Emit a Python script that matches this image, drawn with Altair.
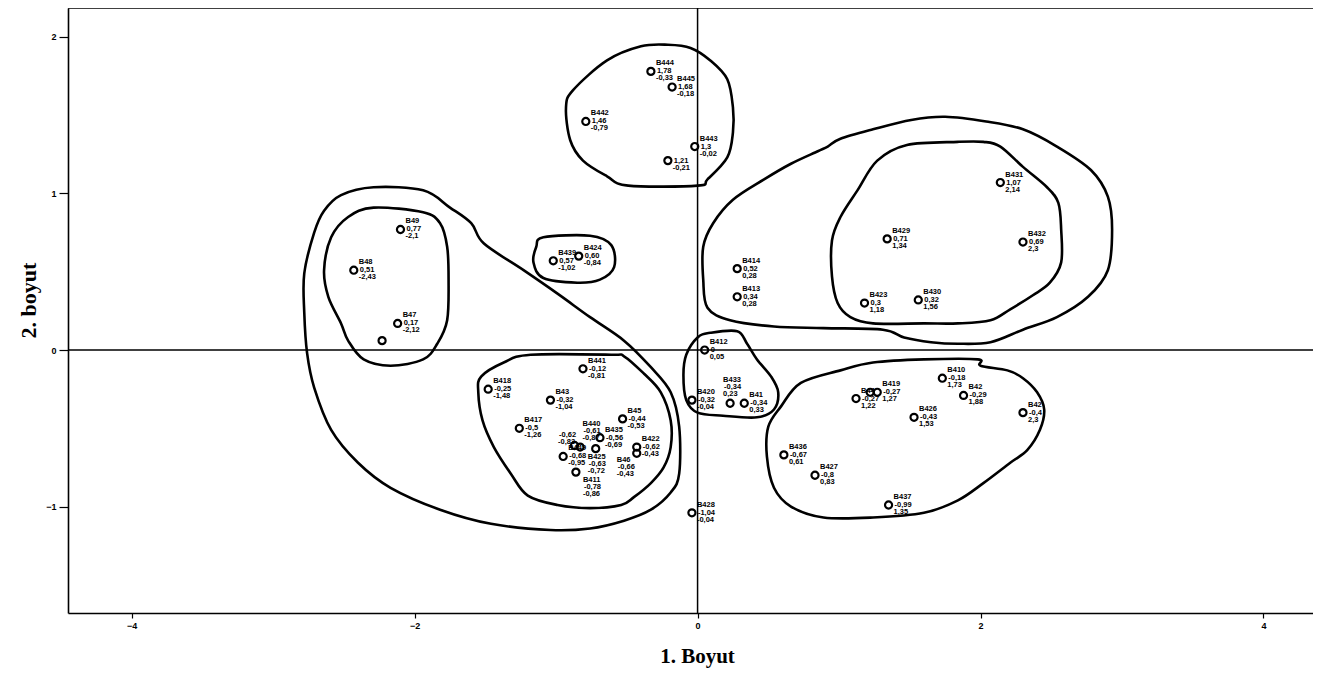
import altair as alt
import pandas as pd

# ---- points (1. Boyut = dim1, 2. boyut = dim2) ----
names = ["B444", "B445", "B442", "B443", "", "B49", "B48", "B47", "", "B439", "B424",
         "B441", "B418", "B43", "B417", "B45", "B440", "", "B435", "B449", "B425", "B411",
         "B46", "B422", "B420", "B433", "B41", "B412", "B414", "B413", "B428",
         "B431", "B429", "B432", "B423", "B430", "B410", "B419", "", "B44", "B42",
         "B426", "B42", "B436", "B427", "B437"]
dim1 = [-0.33, -0.18, -0.79, -0.02, -0.21, -2.10, -2.43, -2.12, -2.23, -1.02, -0.84,
        -0.81, -1.48, -1.04, -1.26, -0.53, -0.87, -0.83, -0.69, -0.95, -0.72, -0.86,
        -0.43, -0.43, -0.04, 0.23, 0.33, 0.05, 0.28, 0.28, -0.04,
        2.14, 1.34, 2.30, 1.18, 1.56, 1.73, 1.27, 1.22, 1.12, 1.88,
        1.53, 2.30, 0.61, 0.83, 1.35]
dim2 = [1.78, 1.68, 1.46, 1.30, 1.21, 0.77, 0.51, 0.17, 0.06, 0.57, 0.60,
        -0.12, -0.25, -0.32, -0.50, -0.44, -0.61, -0.62, -0.56, -0.68, -0.63, -0.78,
        -0.66, -0.62, -0.32, -0.34, -0.34, 0.00, 0.52, 0.34, -1.04,
        1.07, 0.71, 0.69, 0.30, 0.32, -0.18, -0.27, -0.27, -0.31, -0.29,
        -0.43, -0.40, -0.67, -0.80, -0.99]
label_a = ["1,78", "1,68", "1,46", "1,3", "1,21", "0,77", "0,51", "0,17", "", "0,57", "0,60",
           "-0,12", "-0,25", "-0,32", "-0,5", "-0,44", "-0,61", "-0,62", "-0,56", "-0,68", "-0,63", "-0,78",
           "-0,66", "-0,62", "-0,32", "-0,34", "-0,34", "0", "0,52", "0,34", "-1,04",
           "1,07", "0,71", "0,69", "0,3", "0,32", "-0,18", "-0,27", "", "-0,27", "-0,29",
           "-0,43", "-0,4", "-0,67", "-0,8", "-0,99"]
label_b = ["-0,33", "-0,18", "-0,79", "-0,02", "-0,21", "-2,1", "-2,43", "-2,12", "", "-1,02", "-0,84",
           "-0,81", "-1,48", "-1,04", "-1,26", "-0,53", "-0,87", "-0,83", "-0,69", "-0,95", "-0,72", "-0,86",
           "-0,43", "-0,43", "-0,04", "0,23", "0,33", "0,05", "0,28", "0,28", "-0,04",
           "2,14", "1,34", "2,3", "1,18", "1,56", "1,73", "1,27", "", "1,22", "1,88",
           "1,53", "2,3", "0,61", "0,83", "1,35"]

# ---- hand-drawn group outlines (data units) ----
curve_top_x = [-0.21, -0.05, 0.09, 0.21, 0.25, 0.25, 0.21, 0.07, 0.00, -0.49, -0.64, -0.81, -0.90, -0.93, -0.88, -0.64, -0.40]
curve_top_y = [1.95, 1.93, 1.85, 1.73, 1.55, 1.39, 1.23, 1.09, 1.05, 1.05, 1.11, 1.21, 1.34, 1.55, 1.66, 1.85, 1.94]

curve_small_x = [-1.09, -0.76, -0.61, -0.59, -0.69, -0.85, -1.09, -1.16, -1.14]
curve_small_y = [0.72, 0.73, 0.67, 0.53, 0.45, 0.43, 0.46, 0.56, 0.66]

curve_left_in_x = [-2.29, -1.94, -1.82, -1.77, -1.76, -1.77, -1.84, -1.94, -2.17, -2.36, -2.47, -2.52, -2.61, -2.64, -2.59, -2.47]
curve_left_in_y = [0.91, 0.88, 0.81, 0.66, 0.45, 0.19, 0.04, -0.06, -0.10, -0.06, 0.06, 0.17, 0.34, 0.51, 0.72, 0.85]

curve_left_out_x = [-2.52, -2.29, -1.94, -1.75, -1.60, -1.51, -1.23, -0.99, -0.76, -0.52, -0.33, -0.19, -0.13, -0.13,
                    -0.19, -0.33, -0.52, -0.76, -1.04, -1.46, -1.82, -2.17, -2.40, -2.59, -2.71, -2.76, -2.78, -2.78, -2.71, -2.64]
curve_left_out_y = [0.99, 1.04, 1.02, 0.91, 0.81, 0.68, 0.51, 0.36, 0.21, 0.06, -0.11, -0.27, -0.49, -0.79,
                    -0.91, -1.02, -1.09, -1.14, -1.15, -1.11, -1.02, -0.88, -0.72, -0.51, -0.24, -0.02, 0.24, 0.49, 0.75, 0.89]

curve_cluster_x = [-1.53, -1.37, -1.18, -0.61, -0.52, -0.38, -0.26, -0.19, -0.19, -0.24, -0.33, -0.45, -0.54, -0.76, -0.99, -1.20, -1.32, -1.44, -1.52, -1.55]
curve_cluster_y = [-0.17, -0.08, -0.03, -0.03, -0.04, -0.15, -0.27, -0.45, -0.62, -0.75, -0.85, -0.94, -0.99, -1.01, -0.99, -0.93, -0.79, -0.62, -0.45, -0.27]

curve_center_x = [0.00, 0.09, 0.28, 0.35, 0.42, 0.52, 0.57, 0.54, 0.42, 0.18, 0.00, -0.08, -0.10, -0.08]
curve_center_y = [0.08, 0.11, 0.12, 0.04, -0.06, -0.17, -0.27, -0.38, -0.43, -0.42, -0.40, -0.32, -0.16, -0.03]

curve_right_out_x = [0.04, 0.04, 0.11, 0.25, 0.47, 0.66, 0.85, 0.92, 1.01, 1.24, 1.51, 1.75, 2.04, 2.30, 2.54, 2.78, 2.90,
                     2.93, 2.90, 2.76, 2.54, 2.30, 2.07, 1.84, 1.65, 1.46, 1.31, 0.89, 0.54, 0.23, 0.07]
curve_right_out_y = [0.45, 0.66, 0.81, 0.96, 1.09, 1.19, 1.27, 1.30, 1.35, 1.41, 1.47, 1.49, 1.46, 1.41, 1.30, 1.15, 0.98,
                     0.77, 0.51, 0.34, 0.21, 0.13, 0.05, 0.04, 0.05, 0.08, 0.13, 0.14, 0.15, 0.19, 0.27]

curve_right_in_x = [1.27, 1.48, 1.84, 2.02, 2.14, 2.30, 2.47, 2.55, 2.57, 2.57, 2.49, 2.37, 2.21, 2.07, 1.84, 1.60, 1.24, 1.08, 0.99, 0.95, 0.95, 1.01, 1.13]
curve_right_in_y = [1.21, 1.31, 1.33, 1.33, 1.30, 1.17, 1.04, 0.94, 0.77, 0.56, 0.43, 0.35, 0.26, 0.19, 0.17, 0.17, 0.17, 0.21, 0.30, 0.47, 0.70, 0.85, 1.02]

curve_right_low_x = [0.73, 1.01, 1.24, 1.60, 1.98, 2.00, 2.19, 2.30, 2.40, 2.45, 2.42, 2.33, 2.21, 2.02, 1.84, 1.60, 1.24, 0.89, 0.66, 0.54, 0.49, 0.50, 0.59]
curve_right_low_y = [-0.21, -0.13, -0.08, -0.06, -0.06, -0.10, -0.13, -0.18, -0.27, -0.38, -0.51, -0.64, -0.72, -0.85, -0.96, -1.04, -1.07, -1.07, -1.00, -0.88, -0.68, -0.49, -0.36]

x_ticks = [-4, -2, 0, 2, 4]
y_ticks = [-1, 0, 1, 2]

# ---- layout / style settings (not data) ----
X_DOMAIN = [-4.45, 4.35]
Y_DOMAIN = [-1.68, 2.185]
W, H = 1245, 605

# label placement for crowded points (index into the point lists -> placement key)
PLACEMENT_BY_INDEX = {25: "above", 17: "left", 16: "aboveright", 20: "below", 21: "belowright", 22: "belowleft"}
# placement key -> (align, dx, dy_name, dy_a, dy_b)
PLACEMENTS = {
    "right": ("left", 5, -8, 0, 7),
    "above": ("left", -7, -23, -16, -9),
    "left": ("right", -5, -20, -12, -5),
    "aboveright": ("left", 8, -22, -15, -8),
    "below": ("left", -8, 8, 15, 22),
    "belowright": ("left", 7, 8, 15, 22),
    "belowleft": ("left", -20, 7, 14, 21),
}

pts = pd.DataFrame({"x": dim1, "y": dim2, "name": names, "a": label_a, "b": label_b})
pts["place"] = [PLACEMENT_BY_INDEX.get(i, "right") for i in range(len(pts))]

curves = [
    ("top", curve_top_x, curve_top_y),
    ("small", curve_small_x, curve_small_y),
    ("left_in", curve_left_in_x, curve_left_in_y),
    ("left_out", curve_left_out_x, curve_left_out_y),
    ("cluster", curve_cluster_x, curve_cluster_y),
    ("center", curve_center_x, curve_center_y),
    ("right_out", curve_right_out_x, curve_right_out_y),
    ("right_in", curve_right_in_x, curve_right_in_y),
    ("right_low", curve_right_low_x, curve_right_low_y),
]
rows = []
for cid, cxs, cys in curves:
    for i, (cx, cy) in enumerate(zip(cxs, cys)):
        rows.append({"cid": cid, "i": i, "x": cx, "y": cy})
cdf = pd.DataFrame(rows)

xs = alt.Scale(domain=X_DOMAIN, nice=False, zero=False)
ys = alt.Scale(domain=Y_DOMAIN, nice=False, zero=False)

x_axis = alt.Axis(values=x_ticks, format="d", title="1. Boyut", grid=False,
                  tickSize=5, tickWidth=1.2, tickColor="black", domainColor="black", domainWidth=1.6,
                  labelFont="Liberation Sans", labelFontSize=9, labelFontWeight="bold", labelColor="black",
                  labelPadding=3,
                  titleFont="Liberation Serif", titleFontSize=21, titleFontWeight="bold", titleColor="black",
                  titleX=629, titleY=43, titleBaseline="middle", titleAlign="center")
y_axis = alt.Axis(values=y_ticks, format="d", title="2. boyut", grid=False,
                  tickSize=9, tickWidth=1.2, tickColor="black", domainColor="black", domainWidth=1.6,
                  labelFont="Liberation Sans", labelFontSize=9, labelFontWeight="bold", labelColor="black",
                  labelPadding=3,
                  titleFont="Liberation Serif", titleFontSize=22, titleFontWeight="bold", titleColor="black",
                  titleAngle=270, titleX=-40, titleY=292, titleBaseline="middle", titleAlign="center")

X = alt.X("x:Q", scale=xs)
Y = alt.Y("y:Q", scale=ys)

outlines = alt.Chart(cdf).mark_line(interpolate="cardinal-closed", color="black", strokeWidth=2.6).encode(
    x=alt.X("x:Q", scale=xs, axis=x_axis),
    y=alt.Y("y:Q", scale=ys, axis=y_axis),
    detail="cid:N",
    order="i:Q",
)

zero_df = pd.DataFrame({"v": [0]})
vline = alt.Chart(zero_df).mark_rule(color="black", strokeWidth=1.5).encode(x=alt.X("v:Q", scale=xs))
hline = alt.Chart(zero_df).mark_rule(color="black", strokeWidth=1.5).encode(y=alt.Y("v:Q", scale=ys))
topline = alt.Chart(zero_df).mark_rule(color="black", strokeWidth=1.5).encode(
    x=alt.value(0), x2=alt.value(W), y=alt.value(0))

base_pts = alt.Chart(pts)
circles = base_pts.mark_point(shape="circle", size=50, filled=False, color="black",
                              strokeWidth=2.2, opacity=1).encode(x=X, y=Y)

txt = dict(font="Liberation Sans", fontSize=7.5, fontWeight="bold", color="black", baseline="middle")
text_layers = []
for key, (align, dx, dyn, dya, dyb) in PLACEMENTS.items():
    sub = base_pts.transform_filter(alt.datum.place == key)
    text_layers.append(sub.mark_text(align=align, dx=dx, dy=dyn, **txt).encode(x=X, y=Y, text="name:N"))
    text_layers.append(sub.mark_text(align=align, dx=dx + 1, dy=dya, **txt).encode(x=X, y=Y, text="a:N"))
    text_layers.append(sub.mark_text(align=align, dx=dx, dy=dyb, **txt).encode(x=X, y=Y, text="b:N"))

chart = alt.layer(outlines, vline, hline, topline, circles, *text_layers).properties(
    width=W, height=H,
    autosize=alt.AutoSizeParams(type="none"),
    padding={"left": 60, "top": 0, "right": 0, "bottom": 58},
    background="white",
).configure_view(stroke=None)

chart.save("out.html", embed_options={"renderer": "svg", "actions": False})
